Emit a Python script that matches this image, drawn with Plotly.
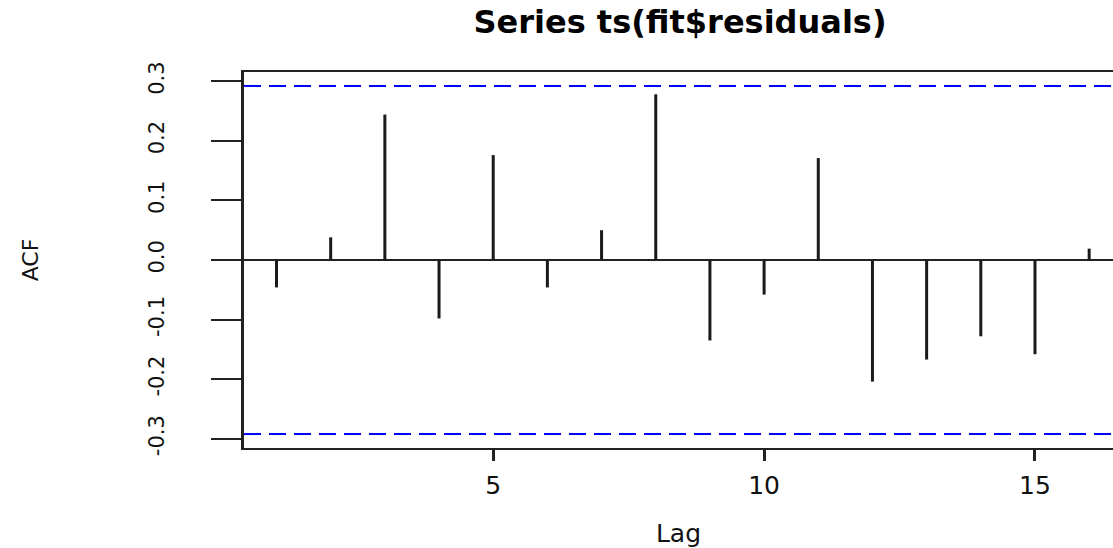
import plotly.graph_objects as go

# ---- data ----
lags = [1, 2, 3, 4, 5, 6, 7, 8, 9, 10, 11, 12, 13, 14, 15, 16]
acf_values = [-0.046, 0.038, 0.244, -0.098, 0.176, -0.046, 0.050, 0.278,
              -0.135, -0.058, 0.171, -0.204, -0.167, -0.128, -0.158, 0.019]
conf_limit = 0.292
x_ticks = [5, 10, 15]
y_ticks = [-0.3, -0.2, -0.1, 0.0, 0.1, 0.2, 0.3]
y_tick_labels = ["-0.3", "-0.2", "-0.1", "0.0", "0.1", "0.2", "0.3"]
title_text = "Series ts(fit$residuals)"

# vertical spikes from 0 to each ACF value
spike_x, spike_y = [], []
for lag, v in zip(lags, acf_values):
    spike_x += [lag, lag, None]
    spike_y += [0, v, None]

FONT = "DejaVu Sans"

fig = go.Figure()
fig.add_trace(go.Scatter(
    x=spike_x, y=spike_y, mode="lines",
    line=dict(color="#1a1a1a", width=3),
    hoverinfo="skip", showlegend=False,
))

for c in (conf_limit, -conf_limit):
    fig.add_shape(type="line", xref="paper", x0=0, x1=1, yref="y", y0=c, y1=c,
                  line=dict(color="#0000ff", width=2, dash="17px,8px"))

fig.update_layout(
    width=1113, height=548,
    margin=dict(l=244, r=0, t=72, b=100),
    paper_bgcolor="white", plot_bgcolor="white",
    showlegend=False,
    title=dict(text="<b>" + title_text + "</b>", x=680 / 1113, xref="container",
               xanchor="center", y=1 - 22 / 548, yref="container", yanchor="middle",
               font=dict(family=FONT, size=32, color="black")),
    font=dict(family=FONT, color="black"),
)

fig.update_xaxes(
    range=[0.4, 16.44], showgrid=False, zeroline=False,
    showline=True, mirror=True, linecolor="#222222", linewidth=2,
    ticks="outside", ticklen=11, tickwidth=3, tickcolor="#222222",
    tickvals=x_ticks, tickfont=dict(family=FONT, size=25, color="#111111"),
    ticklabelstandoff=3,
    title=dict(text="Lag", font=dict(family=FONT, size=25, color="#111111"), standoff=26),
)

fig.update_yaxes(
    range=[-0.3154, 0.3154], showgrid=False,
    zeroline=True, zerolinecolor="#222222", zerolinewidth=2,
    showline=True, mirror=False, linecolor="#222222", linewidth=3,
    ticks="outside", ticklen=30, tickwidth=2, tickcolor="#222222",
    tickvals=y_ticks, ticktext=y_tick_labels, tickangle=-90,
    tickfont=dict(family=FONT, size=21, color="#111111"),
    ticklabelstandoff=39,
    title=dict(text="ACF", font=dict(family=FONT, size=22, color="#111111"), standoff=100),
)

fig.write_html(
    "out.html",
    config={"displayModeBar": False, "staticPlot": True},
    post_script="document.body.style.margin='0';document.body.style.overflow='hidden';",
)
